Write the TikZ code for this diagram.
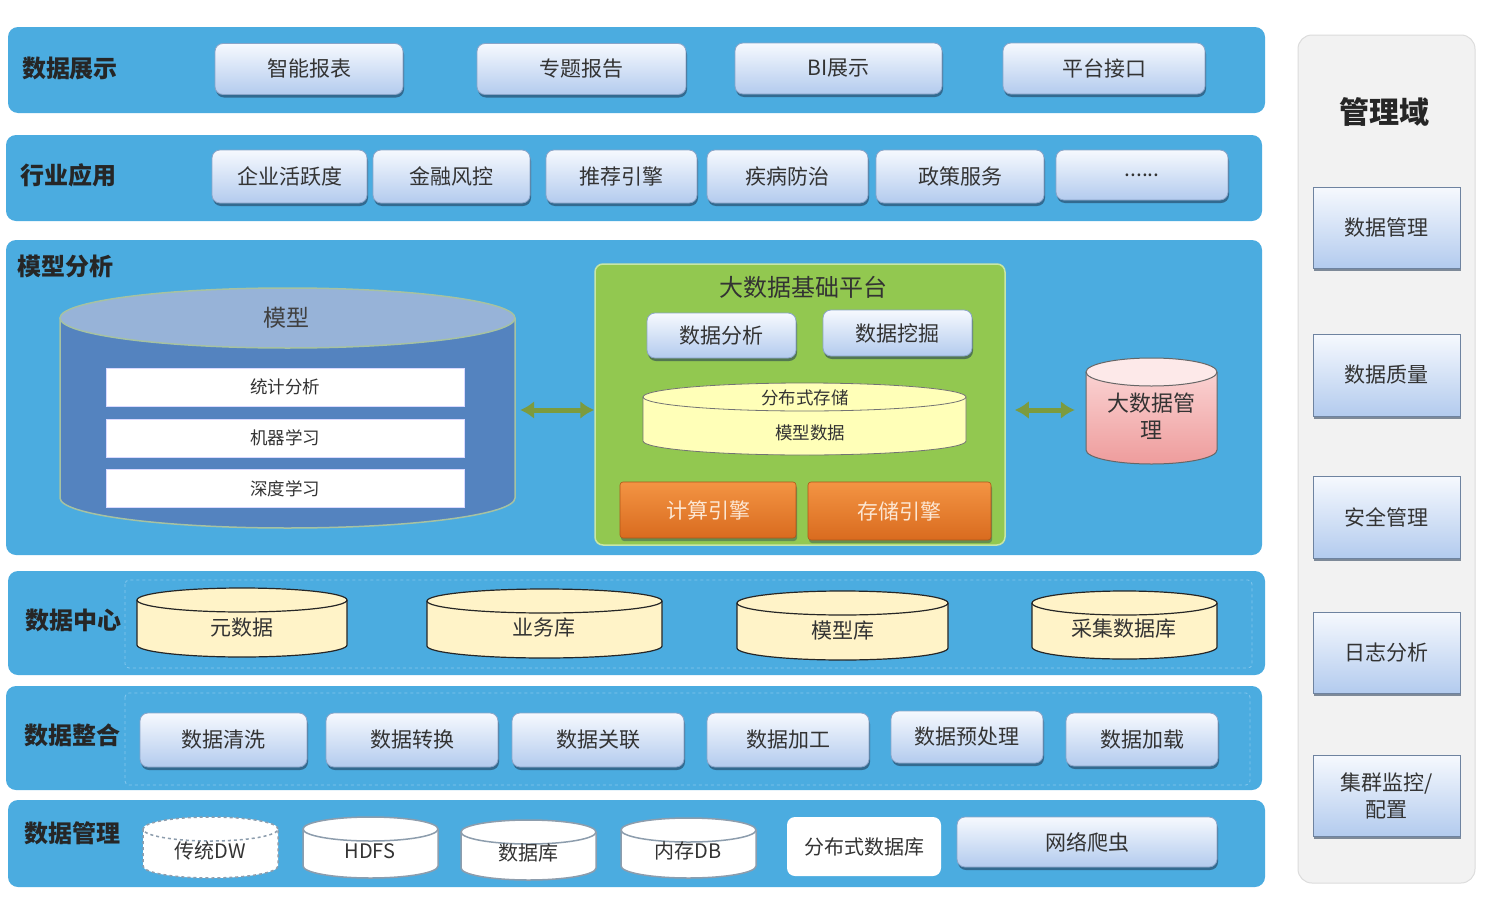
\documentclass[tikz,border=0pt]{standalone}
\usepackage{fontspec}
\setmainfont{Noto Sans CJK SC}
\usetikzlibrary{shadows,arrows.meta,calc}
\definecolor{bandblue}{HTML}{4BACE0}
\definecolor{btntop}{HTML}{F6F9FE}
\definecolor{btnbot}{HTML}{B3CBEE}
\definecolor{btnedge}{HTML}{8AA4C8}
\definecolor{txtgray}{HTML}{333333}
\definecolor{panelgray}{HTML}{F2F2F2}
\definecolor{paneledge}{HTML}{DCDCDC}
\definecolor{modelbody}{HTML}{5483BF}
\definecolor{modeltop}{HTML}{97B3D8}
\definecolor{modeledge}{HTML}{A6C2A2}
\definecolor{platgreen}{HTML}{92C850}
\definecolor{platedge}{HTML}{C8E6A6}
\definecolor{arrowgreen}{HTML}{7C9B3E}
\definecolor{storyellow}{HTML}{FFFFB8}
\definecolor{dcyellow}{HTML}{FFF3C8}
\definecolor{orangetop}{HTML}{F39443}
\definecolor{orangebot}{HTML}{D96B1F}
\definecolor{orangetxt}{HTML}{FCE6D2}
\definecolor{pinktop}{HTML}{FCDADA}
\definecolor{pinkbot}{HTML}{EE9C9C}
\definecolor{dashblue}{HTML}{86C8EE}
\definecolor{cylgray}{HTML}{8D9DAD}
\definecolor{shadowcol}{HTML}{1F3550}

\tikzset{
  band/.style={fill=bandblue, rounded corners=10pt, inner sep=0pt},
  btn/.style={rounded corners=8pt, top color=btntop, bottom color=btnbot, draw=btnedge,
    line width=0.8pt, inner sep=0pt, text=txtgray, font=\fontsize{21}{25}\selectfont,
    drop shadow={shadow xshift=1pt, shadow yshift=-3pt, opacity=0.55, fill=shadowcol}},
  sqbtn/.style={btn, rounded corners=0pt, draw=btnedge!80!black},
  lbl/.style={font=\fontsize{24}{28}\selectfont\bfseries, text=black!85},
  txt/.style={font=\fontsize{21}{25}\selectfont, text=txtgray},
  stxt/.style={font=\fontsize{17.5}{21}\selectfont, text=txtgray},
  whitebar/.style={fill=white, draw=white!85!blue, inner sep=0pt, minimum width=358pt, minimum height=38pt, stxt},
  engine/.style={rounded corners=3pt, top color=orangetop, bottom color=orangebot, draw=orangebot!80!black,
    line width=0.6pt, text=orangetxt, font=\fontsize{21}{25}\selectfont, inner sep=0pt,
    drop shadow={shadow xshift=1pt, shadow yshift=-3pt, opacity=0.4, fill=shadowcol}},
  biarrow/.style={{Latex[length=14pt,width=18pt]}-{Latex[length=14pt,width=18pt]}, line width=5pt, draw=arrowgreen},
  ghost/.style={inner sep=0pt, draw=none},
  dashbox/.style={draw=dashblue, dashed, line width=0.8pt, rounded corners=4pt}
}

% cylinder: cx, rx, ytop, ybot, ry, body style, top style, line style
\newcommand\dbcyl[8]{%
  \path[#6] (#1-#2,#3) -- (#1-#2,#4) arc[start angle=180,end angle=360,x radius=#2pt,y radius=#5pt]
     -- (#1+#2,#3) arc[start angle=0,end angle=180,x radius=#2pt,y radius=#5pt] -- cycle;
  \path[#7] (#1,#3) ellipse[x radius=#2pt,y radius=#5pt];
  \draw[#8] (#1-#2,#3) -- (#1-#2,#4) arc[start angle=180,end angle=360,x radius=#2pt,y radius=#5pt] -- (#1+#2,#3);
  \draw[#8] (#1,#3) ellipse[x radius=#2pt,y radius=#5pt];
}

\begin{document}
\begin{tikzpicture}[x=1pt,y=-1pt]
\useasboundingbox (0,0) rectangle (1500,921);
\fill[white] (0,0) rectangle (1500,921);

% ---------- bands ----------
\node[band, minimum width=1257pt, minimum height=86pt] (bshow) at (636.5,70) {};
\node[band, minimum width=1256pt, minimum height=86pt] (bapp) at (634,178) {};
\node[band, minimum width=1256pt, minimum height=315pt] (bmodel) at (634,397.5) {};
\node[band, minimum width=1257pt, minimum height=104pt] (bcenter) at (636.5,623) {};
\node[band, minimum width=1256pt, minimum height=104pt] (binteg) at (634,738) {};
\node[band, minimum width=1257pt, minimum height=87pt] (bmanage) at (636.5,843.5) {};

\draw[dashbox] (125,580) rectangle (1252,668);
\draw[dashbox] (125,693) rectangle (1250,785);

% ---------- labels ----------
\node[lbl] (lshow) at (70,68) {数据展示};
\node[lbl] (lapp) at (68,175) {行业应用};
\node[lbl] (lmodel) at (65,266) {模型分析};
\node[lbl] (lcenter) at (73,620) {数据中心};
\node[lbl] (linteg) at (72,735) {数据整合};
\node[lbl] (lmanage) at (72,833) {数据管理};

% ---------- row 1 ----------
\node[btn, minimum width=188pt, minimum height=51pt] (r1a) at (309,69) {智能报表};
\node[btn, minimum width=209pt, minimum height=51pt] (r1b) at (581.5,69) {专题报告};
\node[btn, minimum width=207pt, minimum height=51pt] (r1c) at (838.5,68.5) {BI展示};
\node[btn, minimum width=202pt, minimum height=51pt] (r1d) at (1104,68.5) {平台接口};

% ---------- row 2 ----------
\node[btn, minimum width=155pt, minimum height=53pt] (r2a) at (289.5,176.5) {企业活跃度};
\node[btn, minimum width=157pt, minimum height=53pt] (r2b) at (451.5,176.5) {金融风控};
\node[btn, minimum width=151pt, minimum height=53pt] (r2c) at (621.5,176.5) {推荐引擎};
\node[btn, minimum width=161pt, minimum height=53pt] (r2d) at (787.5,176.5) {疾病防治};
\node[btn, minimum width=168pt, minimum height=53pt] (r2e) at (960,176.5) {政策服务};
\node[btn, minimum width=172pt, minimum height=50pt] (r2f) at (1142,175) {......};

% ---------- model analysis ----------
\dbcyl{287.5}{227.5}{318}{498}{30}{fill=modelbody}{fill=modeltop}{draw=modeledge, line width=1.5pt}
\node[ghost, minimum width=455pt, minimum height=240pt] (modelcyl) at (287.5,410) {};
\node[font=\fontsize{23}{27}\selectfont, text=black!75] (modeltxt) at (286,318) {模型};
\node[whitebar] (bar1) at (285,387) {统计分析};
\node[whitebar] (bar2) at (285,438) {机器学习};
\node[whitebar] (bar3) at (285,488.5) {深度学习};

\node[fill=platgreen, draw=platedge, line width=1.5pt, rounded corners=8pt, minimum width=410pt, minimum height=281pt] (plat) at (800,404.5) {};
\node[font=\fontsize{24}{28}\selectfont, text=black!80] (plattitle) at (803,287) {大数据基础平台};
\node[btn, minimum width=149pt, minimum height=45pt] (pana) at (721.5,335.5) {数据分析};
\node[btn, minimum width=149pt, minimum height=46pt] (pmine) at (897.5,333) {数据挖掘};

\dbcyl{804.5}{161.5}{397}{441}{14}{fill=storyellow}{fill=storyellow}{draw=black!55, line width=0.8pt}
\node[stxt] (dstore) at (805,398) {分布式存储};
\node[stxt] (mdata) at (810,433) {模型数据};

\node[engine, minimum width=176pt, minimum height=56pt] (ecalc) at (708,510) {计算引擎};
\node[engine, minimum width=183pt, minimum height=58pt] (estore) at (899.5,511) {存储引擎};

\dbcyl{1151.5}{65.5}{372}{450}{14}{top color=pinktop, bottom color=pinkbot}{fill=pinktop!60!white}{draw=black!60, line width=1pt}
\node[ghost, minimum width=131pt, minimum height=106pt] (bdmcyl) at (1151.5,410) {};
\node[font=\fontsize{22}{27}\selectfont, text=txtgray, align=center] (bdmtxt) at (1151,416) {大数据管\\理};

\draw[biarrow, shorten <=5pt, shorten >=0pt] (modelcyl.east) -- (modelcyl.east -| plat.west);
\draw[biarrow, shorten <=9pt, shorten >=11pt] (plat.east |- bdmcyl.west) -- (bdmcyl.west);

% ---------- data center ----------
\dbcyl{242}{105}{600}{645}{12}{fill=dcyellow}{fill=dcyellow}{draw=black!85, line width=1.2pt}
\dbcyl{544.5}{117.5}{601}{646}{12}{fill=dcyellow}{fill=dcyellow}{draw=black!85, line width=1.2pt}
\dbcyl{842.5}{105.5}{603}{648}{12}{fill=dcyellow}{fill=dcyellow}{draw=black!85, line width=1.2pt}
\dbcyl{1124.5}{92.5}{603}{647}{12}{fill=dcyellow}{fill=dcyellow}{draw=black!85, line width=1.2pt}
\node[txt] (cmeta) at (242,628) {元数据};
\node[txt] (cbiz) at (544,628) {业务库};
\node[txt] (cmodel) at (843,631) {模型库};
\node[txt] (ccollect) at (1124,629) {采集数据库};

% ---------- data integration ----------
\node[btn, minimum width=167pt, minimum height=54pt] (i1) at (223.5,740) {数据清洗};
\node[btn, minimum width=172pt, minimum height=54pt] (i2) at (412,740) {数据转换};
\node[btn, minimum width=172pt, minimum height=54pt] (i3) at (598,740) {数据关联};
\node[btn, minimum width=162pt, minimum height=54pt] (i4) at (788,740) {数据加工};
\node[btn, minimum width=152pt, minimum height=52pt] (i5) at (967,737) {数据预处理};
\node[btn, minimum width=152pt, minimum height=53pt] (i6) at (1142,739.5) {数据加载};

% ---------- data management ----------
\dbcyl{210.5}{67.5}{829}{866}{12}{fill=white}{fill=white}{draw=cylgray, dashed, line width=1.5pt}
\dbcyl{370.5}{67.5}{829}{866}{12}{fill=white}{fill=white}{draw=cylgray, line width=1.5pt}
\dbcyl{528.5}{67.5}{832}{868}{12}{fill=white}{fill=white}{draw=cylgray, line width=1.5pt}
\dbcyl{688.5}{67.5}{830}{866}{12}{fill=white}{fill=white}{draw=cylgray, line width=1.5pt}
\node[txt, font=\fontsize{20}{24}\selectfont] (mdw) at (210,851) {传统DW};
\node[txt, font=\fontsize{20}{24}\selectfont] (mhdfs) at (370,851) {HDFS};
\node[txt, font=\fontsize{20}{24}\selectfont] (mdb) at (528,853) {数据库};
\node[txt, font=\fontsize{20}{24}\selectfont] (mmem) at (688,851) {内存DB};
\node[fill=white, rounded corners=8pt, minimum width=154pt, minimum height=59pt, inner sep=0pt, txt, font=\fontsize{20}{24}\selectfont] (mddb) at (864,846.5) {分布式数据库};
\node[btn, minimum width=260pt, minimum height=50pt] (mcrawl) at (1087,842) {网络爬虫};

% ---------- management domain ----------
\node[fill=panelgray, draw=paneledge, line width=1pt, rounded corners=14pt, minimum width=177pt, minimum height=848pt] (panel) at (1386.5,459) {};
\node[font=\fontsize{30}{34}\selectfont\bfseries, text=black!85] (ptitle) at (1384,112) {管理域};
\node[sqbtn, minimum width=147pt, minimum height=81pt] (d1) at (1386.5,227.5) {数据管理};
\node[sqbtn, minimum width=147pt, minimum height=82pt] (d2) at (1386.5,375) {数据质量};
\node[sqbtn, minimum width=147pt, minimum height=82pt] (d3) at (1386.5,517) {安全管理};
\node[sqbtn, minimum width=147pt, minimum height=81pt] (d4) at (1386.5,652.5) {日志分析};
\node[sqbtn, minimum width=147pt, minimum height=81pt, align=center, font=\fontsize{21}{27}\selectfont] (d5) at (1386.5,795.5) {集群监控/\\配置};
\end{tikzpicture}
\end{document}
